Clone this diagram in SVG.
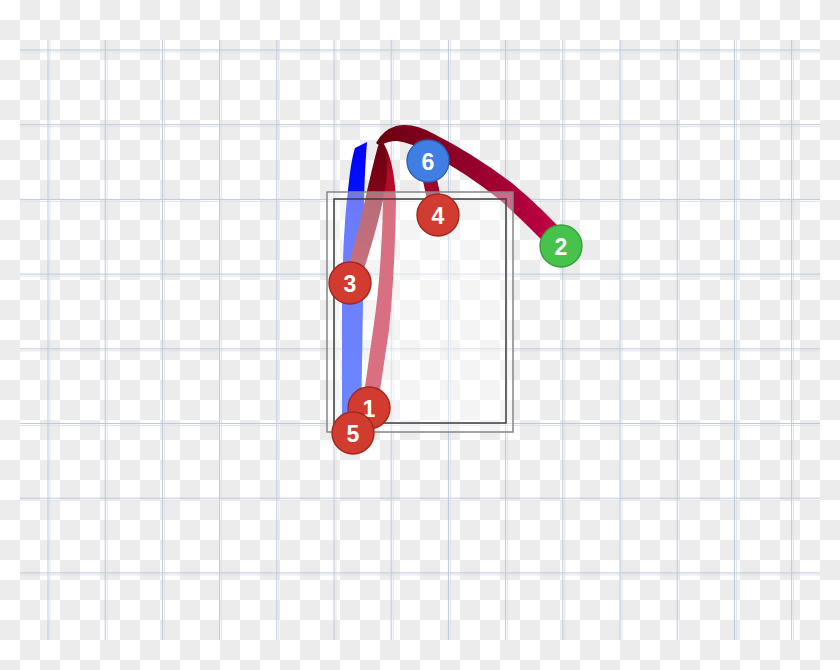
<svg xmlns="http://www.w3.org/2000/svg" width="840" height="670" viewBox="0 0 840 670">
  <defs>
    <pattern id="cb" width="40" height="40" patternUnits="userSpaceOnUse">
      <rect width="40" height="40" fill="#ffffff"/>
      <rect x="20" y="0" width="20" height="20" fill="#ececec"/>
      <rect x="0" y="20" width="20" height="20" fill="#ececec"/>
    </pattern>
    <linearGradient id="gBlue" gradientUnits="userSpaceOnUse" x1="0" y1="143" x2="0" y2="430">
      <stop offset="0" stop-color="#0000ff"/>
      <stop offset="0.3" stop-color="#0020ff"/>
      <stop offset="1" stop-color="#0030ff"/>
    </linearGradient>
    <linearGradient id="gS3" gradientUnits="userSpaceOnUse" x1="0" y1="143" x2="0" y2="285">
      <stop offset="0" stop-color="#6a0010"/>
      <stop offset="0.4" stop-color="#860418"/>
      <stop offset="1" stop-color="#aa0620"/>
    </linearGradient>
    <linearGradient id="gS1" gradientUnits="userSpaceOnUse" x1="0" y1="143" x2="0" y2="408">
      <stop offset="0" stop-color="#720010"/>
      <stop offset="0.12" stop-color="#b80a26"/>
      <stop offset="1" stop-color="#c0082a"/>
    </linearGradient>
    <linearGradient id="gArch" gradientUnits="userSpaceOnUse" x1="380" y1="0" x2="560" y2="0">
      <stop offset="0" stop-color="#6c0010"/>
      <stop offset="0.35" stop-color="#860022"/>
      <stop offset="1" stop-color="#c20046"/>
    </linearGradient>
    <style>
      .gl1 { stroke: #bfcad8; stroke-width: 1; fill: none; }
      .gl2 { stroke: #dde4ee; stroke-width: 1; fill: none; }
      .node-r { fill: #d23b30; stroke: #a2261d; stroke-width: 1.4; }
      .node-b { fill: #3f7fe3; stroke: #2d62b8; stroke-width: 1.4; }
      .node-g { fill: #47c24c; stroke: #35a03a; stroke-width: 1.4; }
      .lbl { fill: #ffffff; font-family: "Liberation Sans", Arial, sans-serif; font-weight: bold; font-size: 23px; text-anchor: middle; }
    </style>
  </defs>

  <rect width="840" height="670" fill="url(#cb)"/>

  <g id="grid">
    <g class="gl2">
      <path d="M20 52H820M20 126.7H820M20 201.4H820M20 276.1H820M20 350.8H820M20 425.5H820M20 500.2H820M20 574.9H820"/>
      <path d="M50 40V640M107.2 40V640M164.4 40V640M221.6 40V640M278.8 40V640M336 40V640M393.2 40V640M450.4 40V640M507.6 40V640M564.8 40V640M622 40V640M679.2 40V640M736.4 40V640M793.6 40V640"/>
    </g>
    <g class="gl1">
      <path d="M20 50H820M20 124.7H820M20 199.4H820M20 274.1H820M20 348.8H820M20 423.5H820M20 498.2H820M20 572.9H820"/>
      <path d="M48 40V640M105.2 40V640M162.4 40V640M219.6 40V640M276.8 40V640M334 40V640M391.2 40V640M448.4 40V640M505.6 40V640M562.8 40V640M620 40V640M677.2 40V640M734.4 40V640M791.6 40V640"/>
    </g>
  </g>

  <g id="connectors">
    <path id="c-blue" fill="url(#gBlue)" d="M342 428 L342 300 Q343 230 348 190 Q351 160 355 148 L367 142 Q365 165 364 200 L363 300 L361 428 Z"/>
    <path id="c-1" fill="url(#gS1)" d="M362 408 L373 330 Q381 280 383 205 Q384 170 379 146 L382 141 Q394 158 396 200 Q395 270 389 330 L377 410 Z"/>
    <path id="c-3" fill="url(#gS3)" d="M343 281 Q357 240 365 200 Q372 168 378 146 L382 141 Q389 160 386 185 Q379 225 358 287 Z"/>
    <path id="c-arch" fill="url(#gArch)" d="M376 143 Q383 130 396 126 Q413 122 434 134 Q472 153 512 183 Q542 208 569 238 L554 253 Q530 227 500 200 Q465 172 430 154 Q410 142 397 141 Q387 141 380 146 Z"/>
    <path id="c-6-4" d="M427 166 Q432 190 437 212" fill="none" stroke="#a0002a" stroke-width="14"/>
  </g>

  <g id="region">
    <rect x="327" y="192" width="186" height="240" fill="#ffffff" fill-opacity="0.42" stroke="#858585" stroke-width="1.5"/>
    <rect x="334" y="199" width="172" height="224" fill="none" stroke="#3c3c3c" stroke-width="1.5"/>
  </g>

  <g id="node-6"><circle class="node-b" cx="428" cy="161" r="21"/><text class="lbl" x="428" y="169.5">6</text></g>
  <g id="node-4"><circle class="node-r" cx="438" cy="215" r="21"/><text class="lbl" x="438" y="223.5">4</text></g>
  <g id="node-2"><circle class="node-g" cx="561" cy="246" r="21"/><text class="lbl" x="561" y="254.5">2</text></g>
  <g id="node-3"><circle class="node-r" cx="350" cy="283" r="21"/><text class="lbl" x="350" y="291.5">3</text></g>
  <g id="node-1"><circle class="node-r" cx="369" cy="408" r="21"/><text class="lbl" x="369" y="416.5">1</text></g>
  <g id="node-5"><circle class="node-r" cx="353" cy="433" r="21"/><text class="lbl" x="353" y="441.5">5</text></g>
</svg>
